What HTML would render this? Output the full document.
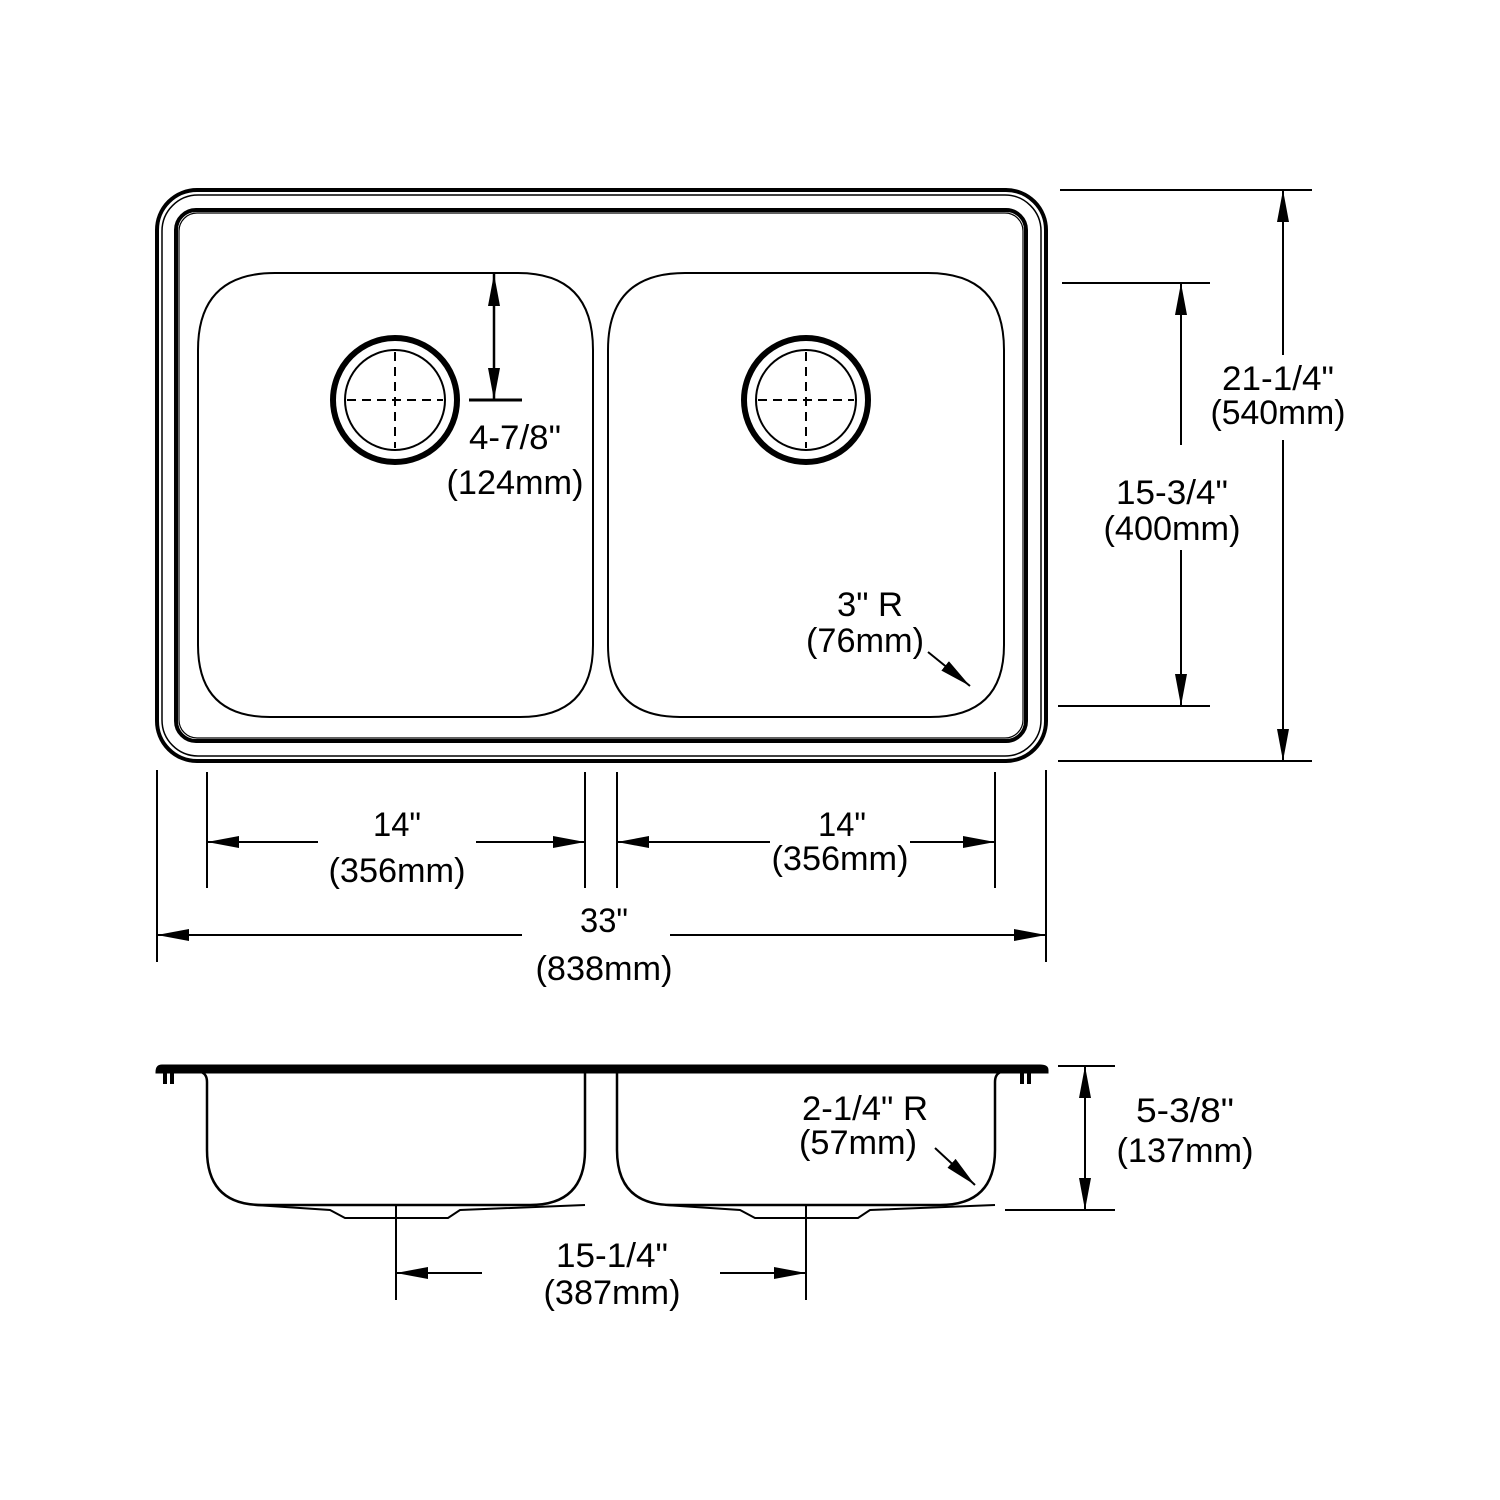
<!DOCTYPE html>
<html><head><meta charset="utf-8"><style>html,body{margin:0;padding:0;background:#fff}svg{display:block}</style></head><body>
<svg width="1500" height="1500" viewBox="0 0 1500 1500" xmlns="http://www.w3.org/2000/svg" font-family="Liberation Sans, sans-serif" font-size="34" fill="none" stroke="#000">
<defs>
<marker id="a" viewBox="0 0 32 12" refX="32" refY="6" markerWidth="32" markerHeight="12" markerUnits="userSpaceOnUse" orient="auto-start-reverse"><path d="M0,0 L32,6 L0,12 z" fill="#000" stroke="none"/></marker>
</defs>
<rect x="157" y="190" width="889" height="571" rx="40" stroke-width="4"/>
<rect x="162" y="195" width="879" height="561" rx="36" stroke-width="1.5"/>
<rect x="176" y="210" width="850" height="531" rx="20" stroke-width="4"/>
<rect x="179" y="213" width="844" height="525" rx="18" stroke-width="1.2"/>
<path d="M198,350 Q198,273 275,273 L518,273 Q593,273 593,350 L593,645 Q593,717 520,717 L270,717 Q198,717 198,645 Z" stroke-width="2"/>
<path d="M608,350 Q608,273 685,273 L928,273 Q1004,273 1004,350 L1004,645 Q1004,717 930,717 L680,717 Q608,717 608,645 Z" stroke-width="2"/>
<circle cx="395" cy="400" r="62" stroke-width="6"/>
<circle cx="395" cy="400" r="50" stroke-width="2"/>
<path d="M395,352 V448 M347,400 H443" stroke-width="2" stroke-dasharray="9,6"/>
<circle cx="806" cy="400" r="62" stroke-width="6"/>
<circle cx="806" cy="400" r="50" stroke-width="2"/>
<path d="M806,352 V448 M758,400 H854" stroke-width="2" stroke-dasharray="9,6"/>
<line x1="494" y1="274" x2="494" y2="400" stroke-width="2.5" marker-start="url(#a)" marker-end="url(#a)"/>
<line x1="469" y1="400" x2="522" y2="400" stroke-width="3"/>
<g stroke-width="2">
<line x1="1060" y1="190" x2="1312" y2="190"/>
<line x1="1058" y1="761" x2="1312" y2="761"/>
<line x1="1283" y1="355" x2="1283" y2="190" marker-end="url(#a)"/>
<line x1="1283" y1="440" x2="1283" y2="761" marker-end="url(#a)"/>
<line x1="1062" y1="283" x2="1210" y2="283"/>
<line x1="1058" y1="706" x2="1210" y2="706"/>
<line x1="1181" y1="445" x2="1181" y2="283" marker-end="url(#a)"/>
<line x1="1181" y1="550" x2="1181" y2="706" marker-end="url(#a)"/>
<line x1="157" y1="770" x2="157" y2="962"/>
<line x1="1046" y1="770" x2="1046" y2="962"/>
<line x1="207" y1="772" x2="207" y2="888"/>
<line x1="585" y1="772" x2="585" y2="888"/>
<line x1="617" y1="772" x2="617" y2="888"/>
<line x1="995" y1="772" x2="995" y2="888"/>
<line x1="318" y1="842" x2="207" y2="842" marker-end="url(#a)"/>
<line x1="476" y1="842" x2="585" y2="842" marker-end="url(#a)"/>
<line x1="770" y1="842" x2="617" y2="842" marker-end="url(#a)"/>
<line x1="910" y1="842" x2="995" y2="842" marker-end="url(#a)"/>
<line x1="522" y1="935" x2="157" y2="935" marker-end="url(#a)"/>
<line x1="670" y1="935" x2="1046" y2="935" marker-end="url(#a)"/>
<line x1="928" y1="652" x2="970" y2="686" marker-end="url(#a)"/>
</g>
<path d="M162,1066 L1040,1066 Q1047,1066 1047,1070 L1047,1072 L157,1072 Q157,1066 162,1066 Z" fill="#000" stroke-width="3"/>
<path d="M165,1072 v12 M172,1072 v12 M1022,1072 v12 M1029,1072 v12" stroke-width="4"/>
<path d="M201,1072 Q207,1074 207,1082 L207,1150 Q207,1205 262,1205 L530,1205 Q585,1205 585,1150 L585,1072" stroke-width="2.5"/>
<path d="M617,1072 L617,1150 Q617,1205 672,1205 L940,1205 Q995,1205 995,1150 L995,1082 Q995,1074 1001,1072" stroke-width="2.5"/>
<path d="M255,1205 L330,1210 L345,1218 L448,1218 L460,1210 L585,1205" stroke-width="2"/>
<path d="M665,1205 L740,1210 L755,1218 L858,1218 L870,1210 L995,1205" stroke-width="2"/>
<g stroke-width="2">
<line x1="1058" y1="1066" x2="1115" y2="1066"/>
<line x1="1005" y1="1210" x2="1115" y2="1210"/>
<line x1="1085" y1="1140" x2="1085" y2="1066" marker-end="url(#a)"/>
<line x1="1085" y1="1140" x2="1085" y2="1210" marker-end="url(#a)"/>
<line x1="396" y1="1205" x2="396" y2="1300"/>
<line x1="806" y1="1205" x2="806" y2="1300"/>
<line x1="482" y1="1273" x2="396" y2="1273" marker-end="url(#a)"/>
<line x1="720" y1="1273" x2="806" y2="1273" marker-end="url(#a)"/>
<line x1="935" y1="1148" x2="975" y2="1185" marker-end="url(#a)"/>
</g>
<g fill="#000" stroke="none" text-anchor="middle">
<text x="515" y="449" textLength="92" lengthAdjust="spacingAndGlyphs">4-7/8"</text>
<text x="515" y="494" textLength="137" lengthAdjust="spacingAndGlyphs">(124mm)</text>
<text x="1278" y="390" textLength="112" lengthAdjust="spacingAndGlyphs">21-1/4"</text>
<text x="1278" y="424" textLength="135" lengthAdjust="spacingAndGlyphs">(540mm)</text>
<text x="1172" y="504" textLength="112" lengthAdjust="spacingAndGlyphs">15-3/4"</text>
<text x="1172" y="540" textLength="137" lengthAdjust="spacingAndGlyphs">(400mm)</text>
<text x="870" y="616" textLength="66" lengthAdjust="spacingAndGlyphs">3" R</text>
<text x="865" y="652" textLength="118" lengthAdjust="spacingAndGlyphs">(76mm)</text>
<text x="397" y="836" textLength="48" lengthAdjust="spacingAndGlyphs">14"</text>
<text x="397" y="882" textLength="137" lengthAdjust="spacingAndGlyphs">(356mm)</text>
<text x="842" y="836" textLength="48" lengthAdjust="spacingAndGlyphs">14"</text>
<text x="840" y="870" textLength="137" lengthAdjust="spacingAndGlyphs">(356mm)</text>
<text x="604" y="932" textLength="48" lengthAdjust="spacingAndGlyphs">33"</text>
<text x="604" y="980" textLength="137" lengthAdjust="spacingAndGlyphs">(838mm)</text>
<text x="865" y="1120" textLength="126" lengthAdjust="spacingAndGlyphs">2-1/4" R</text>
<text x="858" y="1154" textLength="118" lengthAdjust="spacingAndGlyphs">(57mm)</text>
<text x="1185" y="1122" textLength="98" lengthAdjust="spacingAndGlyphs">5-3/8"</text>
<text x="1185" y="1162" textLength="137" lengthAdjust="spacingAndGlyphs">(137mm)</text>
<text x="612" y="1267" textLength="112" lengthAdjust="spacingAndGlyphs">15-1/4"</text>
<text x="612" y="1304" textLength="137" lengthAdjust="spacingAndGlyphs">(387mm)</text>
</g>
</svg>
</body></html>
